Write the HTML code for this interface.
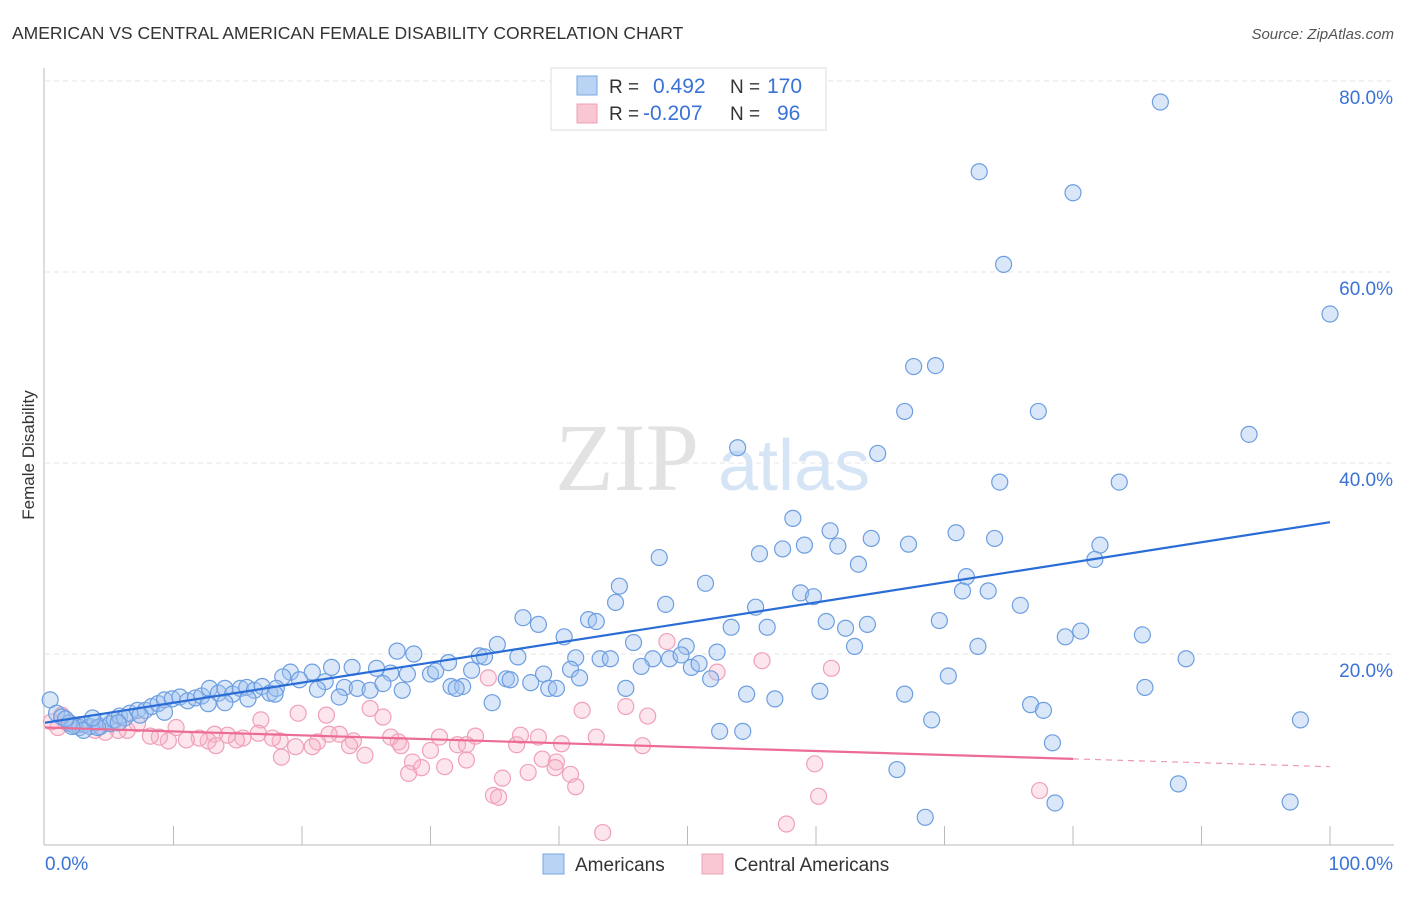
<!DOCTYPE html>
<html><head><meta charset="utf-8"><style>
body{margin:0;background:#fff;font-family:"Liberation Sans",sans-serif;}
</style></head><body>
<svg id="chart" width="1406" height="892" xmlns="http://www.w3.org/2000/svg" font-family="Liberation Sans, sans-serif">
<text x="12" y="39" font-size="17.5" fill="#333">AMERICAN VS CENTRAL AMERICAN FEMALE DISABILITY CORRELATION CHART</text>
<text x="1394" y="39" font-size="15" fill="#555" font-style="italic" text-anchor="end">Source: ZipAtlas.com</text>
<text transform="translate(34,455) rotate(-90)" font-size="17" fill="#333" text-anchor="middle">Female Disability</text>
<g>
<text x="555" y="490" font-size="96" fill="#e2e2e2" style="font-family:'Liberation Serif',serif">ZIP</text>
<text x="718" y="490" font-size="72" fill="#d6e5f6">atlas</text>
</g>
<g id="grid"></g><g id="axes"></g><g id="pts"></g><g id="trend"></g>
<g>
<rect x="551" y="68" width="275" height="62" fill="#fff" stroke="#ddd"/>
<rect x="577" y="76" width="20" height="19" fill="#b9d3f5" stroke="#7aa7e0"/>
<rect x="577" y="104" width="20" height="19" fill="#f9c6d4" stroke="#eea0b6"/>
<text x="609" y="93" font-size="19" fill="#333">R =</text><text x="653" y="93" font-size="21" fill="#3a72d6">0.492</text>
<text x="730" y="93" font-size="19" fill="#333">N =</text><text x="767" y="93" font-size="21" fill="#3a72d6">170</text>
<text x="609" y="120" font-size="19" fill="#333">R =</text><text x="643" y="120" font-size="21" fill="#3a72d6">-0.207</text>
<text x="730" y="120" font-size="19" fill="#333">N =</text><text x="777" y="120" font-size="21" fill="#3a72d6">96</text>
</g>
<g>
<rect x="543" y="854" width="21" height="20" fill="#b9d3f5" stroke="#7aa7e0"/>
<text x="575" y="871" font-size="19" fill="#333">Americans</text>
<rect x="702" y="854" width="21" height="20" fill="#f9c6d4" stroke="#eea0b6"/>
<text x="734" y="871" font-size="19" fill="#333">Central Americans</text>
</g>
</svg>
<script>
const yTicks=[20,40,60,80];
const xTickLabels=["0.0%","100.0%"];
const blueX=[86.8,72.7,80.0,74.6,100,67.6,69.3,66.9,77.3,93.7,53.9,64.8,74.3,83.6,58.2,61.1,70.9,73.9,64.3,67.2,59.1,61.7,82.1,57.4,55.6,47.8,81.7,63.3,71.7,51.4,44.7,71.4,73.4,58.8,59.8,44.4,48.3,75.9,55.3,37.2,42.3,42.9,38.4,53.4,56.2,60.8,64.0,62.3,69.6,80.6,79.4,85.4,40.4,45.8,35.2,49.9,52.3,63.0,72.6,88.8,33.8,34.2,36.8,41.3,43.2,44.0,47.3,48.6,49.5,27.4,28.7,31.4,46.4,50.3,50.9,40.9,38.8,33.2,28.2,30.0,30.4,26.9,25.8,23.9,22.3,20.8,19.1,18.5,19.8,21.8,21.2,23.3,24.3,25.3,26.3,27.8,31.6,32.5,32.0,35.9,36.2,37.8,39.2,39.8,41.6,51.8,45.2,70.3,85.6,54.6,56.8,60.3,66.9,76.7,77.7,69.0,97.7,52.5,54.3,78.4,66.3,88.2,78.6,96.9,68.5,34.8,22.9,0.4,0.9,1.3,1.9,2.3,2.7,3.1,3.5,3.9,4.3,4.7,5.1,5.4,5.8,6.2,6.6,7.2,7.8,8.3,8.8,9.3,9.9,10.5,11.1,11.7,12.2,12.8,13.5,14.0,14.6,15.2,15.7,16.3,16.9,17.5,18.0,12.7,14.0,15.8,17.9,9.3,7.4,5.7,4.1,3.0,2.1,1.6,3.7];
const blueY=[77.8,70.5,68.3,60.8,55.6,50.1,50.2,45.4,45.4,43.0,41.6,41.0,38.0,38.0,34.2,32.9,32.7,32.1,32.1,31.5,31.4,31.3,31.4,31.0,30.5,30.1,29.9,29.4,28.1,27.4,27.1,26.6,26.6,26.4,26.0,25.4,25.2,25.1,24.9,23.8,23.6,23.4,23.1,22.8,22.8,23.4,23.1,22.7,23.5,22.4,21.8,22.0,21.8,21.2,21.0,20.8,20.2,20.8,20.8,19.5,19.8,19.7,19.7,19.6,19.5,19.5,19.5,19.5,19.9,20.3,20.0,19.1,18.7,18.6,19.0,18.4,17.9,18.3,17.9,17.9,18.2,18.0,18.5,18.6,18.6,18.1,18.1,17.6,17.3,17.1,16.3,16.5,16.4,16.2,16.9,16.2,16.6,16.6,16.4,17.4,17.3,17.0,16.4,16.4,17.5,17.4,16.4,17.7,16.5,15.8,15.3,16.1,15.8,14.7,14.1,13.1,13.1,11.9,11.9,10.7,7.9,6.4,4.4,4.5,2.9,14.9,15.5,15.2,13.8,13.4,12.8,12.5,12.3,12.6,12.4,12.8,12.4,12.9,12.7,13.1,13.5,13.3,13.8,14.1,14.1,14.5,14.8,15.2,15.3,15.5,15.1,15.4,15.6,16.4,15.9,16.4,15.8,16.4,16.5,16.2,16.6,15.9,16.4,14.8,14.9,15.3,15.8,13.9,13.6,12.8,12.3,12.0,12.4,13.2,13.3];
const pinkX=[48.4,55.8,61.2,52.3,34.5,25.3,26.3,19.7,21.9,16.8,41.8,45.2,46.9,42.9,46.5,40.2,36.7,38.4,37.0,33.5,30.7,32.1,30.0,32.8,27.5,26.9,24.0,22.9,22.1,21.2,20.8,19.5,18.3,17.7,16.6,15.4,14.9,14.2,13.2,12.7,12.0,11.0,10.2,9.6,8.9,8.2,7.2,6.4,5.7,4.7,3.9,2.7,1.8,1.0,0.5,1.3,13.3,18.4,24.9,27.7,28.6,28.3,29.3,31.1,32.8,35.6,37.6,38.7,39.8,39.7,40.9,41.3,34.9,35.3,43.4,59.9,60.2,57.7,77.4,23.7];
const pinkY=[21.3,19.3,18.5,18.1,17.5,14.3,13.4,13.8,13.6,13.1,14.1,14.5,13.5,11.3,10.4,10.6,10.5,11.3,11.5,11.4,11.3,10.5,9.9,10.5,10.8,11.3,10.9,11.6,11.6,10.8,10.3,10.3,10.9,11.2,11.7,11.2,11.0,11.5,11.6,10.9,11.2,11.0,12.3,10.9,11.3,11.4,12.7,12.0,12.0,11.8,12.0,12.6,12.7,12.3,12.9,13.6,10.4,9.2,9.4,10.4,8.7,7.5,8.1,8.2,8.9,7.0,7.6,9.0,8.7,8.1,7.4,6.1,5.2,5.0,1.3,8.5,5.1,2.2,5.7,10.4];
const blueTrend=[12.8,33.8];
const pinkTrend=[12.3,8.2];
const pinkSolidEnd=80;
const NS="http://www.w3.org/2000/svg";
const X=v=>45+v*12.85, Y=v=>845-v*9.55;
function mk(t,a,p){const e=document.createElementNS(NS,t);for(const k in a)e.setAttribute(k,a[k]);p.appendChild(e);return e;}
const grid=document.getElementById('grid'),axes=document.getElementById('axes');
yTicks.forEach(t=>{
 const l=mk('line',{x1:45,x2:1394,y1:Y(t),y2:Y(t),stroke:'#e4e4e4','stroke-dasharray':'5,4'},grid);
 
 
 const tx=mk('text',{x:1393,y:Y(t)+23,'font-size':19,fill:'#3a72d6','text-anchor':'end'},grid);
 tx.textContent=t.toFixed(1)+'%';
 
 
});
const ax=mk('line',{x1:44,x2:44,y1:68,y2:845,stroke:'#bbb'},axes);


const bx=mk('line',{x1:44,x2:1394,y1:845,y2:845,stroke:'#bbb'},axes);


for(let i=1;i<=10;i++){const tk=mk('line',{x1:X(i*10),x2:X(i*10),y1:826,y2:845,stroke:'#bbb'},axes);
 
 }
xTickLabels.forEach((s,i)=>{const t=mk('text',{x:i?1393:45,y:870,'font-size':19,fill:'#3a72d6','text-anchor':i?'end':'start'},axes);t.textContent=s;
 
 });
const pts=document.getElementById('pts');
pinkX.forEach((x,i)=>{const c=mk('circle',{cx:X(x),cy:Y(pinkY[i]),r:8,fill:'rgba(247,180,200,0.35)',stroke:'#f0a0b8','stroke-width':1.2},pts);
 
 });
blueX.forEach((x,i)=>{const c=mk('circle',{cx:X(x),cy:Y(blueY[i]),r:8,fill:'rgba(160,195,240,0.4)',stroke:'#6d9ee0','stroke-width':1.2},pts);
 
 });
const tr=document.getElementById('trend');
const b=mk('line',{x1:X(0),y1:Y(blueTrend[0]),x2:X(100),y2:Y(blueTrend[1]),stroke:'#2a6dd6','stroke-width':2.2},tr);


const pe=pinkTrend[0]+(pinkTrend[1]-pinkTrend[0])*pinkSolidEnd/100;
const p=mk('line',{x1:X(0),y1:Y(pinkTrend[0]),x2:X(pinkSolidEnd),y2:Y(pe),stroke:'#ec6c94','stroke-width':2.2},tr);


const pd=mk('line',{x1:X(pinkSolidEnd),y1:Y(pe),x2:X(100),y2:Y(pinkTrend[1]),stroke:'#ec9ab4','stroke-width':1.2,'stroke-dasharray':'6,5'},tr);


</script>
</body></html>
